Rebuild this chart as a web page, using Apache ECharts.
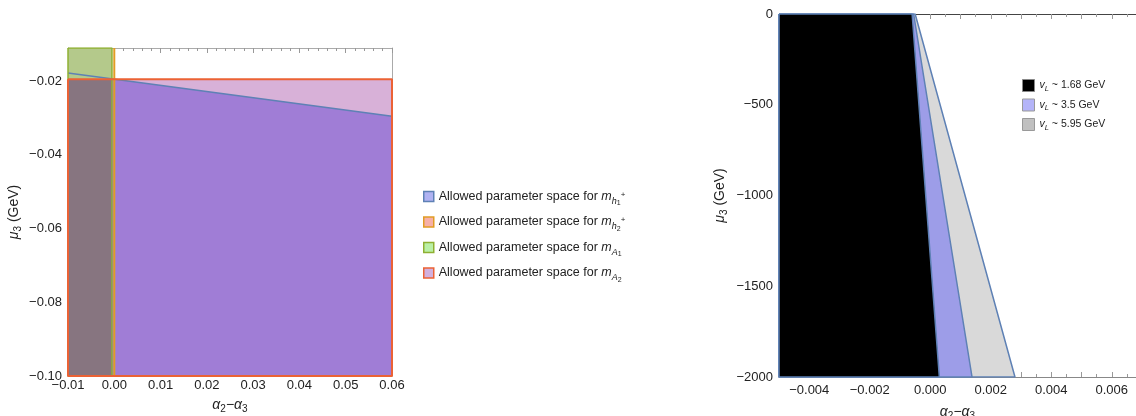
<!DOCTYPE html>
<html><head><meta charset="utf-8">
<script src="https://cdn.jsdelivr.net/npm/echarts@6/dist/echarts.min.js"></script>
<style>html,body{margin:0;padding:0;background:#fff}#c{width:1136px;height:416px}</style>
</head><body><div id="c"></div><script>
// ---------- Left panel: alpha2 - alpha3 vs mu3 (GeV) ----------
const leftX = { min: -0.01, max: 0.06, interval: 0.01 };
const leftY = { min: -0.1, max: -0.011, interval: 0.02 };
const regionMA2 = [[-0.01,-0.0195],[0.06,-0.0195],[0.06,-0.1],[-0.01,-0.1]];
const regionMh1 = [[-0.01,-0.0178],[0.06,-0.0295],[0.06,-0.1],[-0.01,-0.1]];
const boundaryMh1 = [[-0.01,-0.0178],[0.06,-0.0295]];
const regionMA1 = [[-0.01,-0.011],[-0.0005,-0.011],[-0.0005,-0.1],[-0.01,-0.1]];
const overlapAll = [[-0.01,-0.0195],[-0.0005,-0.0195],[-0.0005,-0.1],[-0.01,-0.1]];
const boundaryMh2 = [[0.0,-0.011],[0.0,-0.1]];

// ---------- Right panel: three vL values ----------
const rightX = { min: -0.005, max: 0.0068, interval: 0.001 };
const rightY = { min: -2000, max: 0, interval: 500 };
const regionVL595 = [[-0.005,0],[-0.0005,0],[0.0028,-2000],[-0.005,-2000]];
const regionVL35  = [[-0.005,0],[-0.00055,0],[0.00138,-2000],[-0.005,-2000]];
const regionVL168 = [[-0.005,0],[-0.0006,0],[0.0003,-2000],[-0.005,-2000]];

const FONT = 'Liberation Sans, Arial, sans-serif';
const MINUS = '\u2212';
const fmt = (v, d) => (v < 0 ? MINUS : '') + Math.abs(v).toFixed(d);

function fillSeries(name, gi, pts, fill, z) {
  return {
    type: 'custom', name, xAxisIndex: gi === 0 ? 0 : 2, yAxisIndex: gi === 0 ? 0 : 2, z,
    data: pts, encode: { x: 0, y: 1 }, silent: true,
    itemStyle: { color: fill },
    renderItem: (params, api) => {
      if (params.dataIndex !== 0) return null;
      return { type: 'polygon', shape: { points: pts.map(p => api.coord(p)) },
               style: { fill, stroke: null } };
    }
  };
}
function strokeSeries(name, gi, pts, color, w, z, close) {
  const d = close ? pts.concat([pts[0]]) : pts;
  return {
    type: 'line', name, xAxisIndex: gi === 0 ? 0 : 2, yAxisIndex: gi === 0 ? 0 : 2, z,
    data: d, showSymbol: false, symbol: 'none', silent: true, animation: false,
    lineStyle: { color, width: w }
  };
}

const tickStyle = { show: true, inside: true, length: 5, lineStyle: { color: '#999' } };
const minorStyle = (n) => ({ show: true, splitNumber: n, length: 3, lineStyle: { color: '#999' } });
const labelStyle = { fontFamily: FONT, fontSize: 13, color: '#222' };
const lineNoZero = (color) => ({ show: true, onZero: false, lineStyle: { color } });

const nameRich = {
  a: { fontFamily: FONT, fontSize: 14, fontStyle: 'italic', color: '#222' },
  s: { fontFamily: FONT, fontSize: 10, color: '#222', padding: [8, 0, 0, 0] },
  n: { fontFamily: FONT, fontSize: 14, color: '#222' }
};
const legRich = {
  t: { fontFamily: FONT, fontSize: 12.5, color: '#222' },
  m: { fontFamily: FONT, fontSize: 12.5, fontStyle: 'italic', color: '#222' },
  s: { fontFamily: FONT, fontSize: 9, fontStyle: 'italic', color: '#222', padding: [9, 0, 0, 0] },
  ss: { fontFamily: FONT, fontSize: 7, color: '#222', padding: [14, 0, 0, 0] },
  p: { fontFamily: FONT, fontSize: 8, color: '#222', padding: [0, 0, 4, 0] },
  v: { fontFamily: FONT, fontSize: 10.5, fontStyle: 'italic', color: '#222' },
  L: { fontFamily: FONT, fontSize: 7.5, fontStyle: 'italic', color: '#222', padding: [6, 0, 0, 0] },
  r: { fontFamily: FONT, fontSize: 10.5, color: '#222' }
};
const leftLegendText = {
  mh1: '{t|Allowed parameter space for }{m|m}{s|h}{ss|1}{p|+}',
  mh2: '{t|Allowed parameter space for }{m|m}{s|h}{ss|2}{p|+}',
  mA1: '{t|Allowed parameter space for }{m|m}{s|A}{ss|1}',
  mA2: '{t|Allowed parameter space for }{m|m}{s|A}{ss|2}'
};

const option = {
  animation: false,
  backgroundColor: '#fff',
  grid: [
    { left: 68, top: 48, width: 324, height: 328, outerBoundsMode: 'none', containLabel: false },
    { left: 779, top: 14, width: 357, height: 363, outerBoundsMode: 'none', containLabel: false }
  ],
  xAxis: [
    { gridIndex: 0, type: 'value', position: 'bottom', min: leftX.min, max: leftX.max, interval: leftX.interval,
      axisLine: lineNoZero('#aaa'), axisTick: tickStyle, minorTick: minorStyle(5),
      splitLine: { show: false },
      axisLabel: Object.assign({ margin: 3, formatter: v => fmt(v, 2) }, labelStyle),
      name: '{a|α}{s|2}{n|−}{a|α}{s|3}', nameLocation: 'middle', nameGap: 20,
      nameTextStyle: { rich: nameRich } },
    { gridIndex: 0, type: 'value', position: 'top', min: leftX.min, max: leftX.max, interval: leftX.interval,
      axisLine: lineNoZero('#aaa'), axisTick: tickStyle, minorTick: minorStyle(5),
      splitLine: { show: false }, axisLabel: { show: false } },
    { gridIndex: 1, type: 'value', position: 'bottom', min: rightX.min, max: rightX.max, interval: rightX.interval,
      axisLine: lineNoZero('#888'), axisTick: tickStyle, minorTick: minorStyle(2),
      splitLine: { show: false },
      axisLabel: Object.assign({ margin: 7, showMaxLabel: false,
        formatter: v => { const k = Math.round(v * 1000); return (k % 2 === 0 && k >= -4 && k <= 6) ? fmt(v, 3) : ''; } }, labelStyle),
      name: '{a|α}{s|2}{n|−}{a|α}{s|3}', nameLocation: 'middle', nameGap: 26,
      nameTextStyle: { rich: nameRich } },
    { gridIndex: 1, type: 'value', position: 'top', min: rightX.min, max: rightX.max, interval: rightX.interval,
      axisLine: lineNoZero('#444'), axisTick: tickStyle, minorTick: minorStyle(2),
      splitLine: { show: false }, axisLabel: { show: false } }
  ],
  yAxis: [
    { gridIndex: 0, type: 'value', position: 'left', min: leftY.min, max: leftY.max, interval: leftY.interval,
      axisLine: lineNoZero('#aaa'), axisTick: tickStyle, minorTick: minorStyle(4),
      splitLine: { show: false },
      axisLabel: Object.assign({ margin: 6, showMaxLabel: false, formatter: v => fmt(v, 2) }, labelStyle),
      name: '{a|μ}{s|3}{n| (GeV)}', nameLocation: 'middle', nameGap: 45, nameRotate: 90,
      nameTextStyle: { rich: nameRich } },
    { gridIndex: 0, type: 'value', position: 'right', min: leftY.min, max: leftY.max, interval: leftY.interval,
      axisLine: lineNoZero('#aaa'), axisTick: { show: false }, minorTick: { show: false },
      splitLine: { show: false }, axisLabel: { show: false } },
    { gridIndex: 1, type: 'value', position: 'left', min: rightY.min, max: rightY.max, interval: rightY.interval,
      axisLine: lineNoZero('#5e81b5'), axisTick: tickStyle, minorTick: minorStyle(5),
      splitLine: { show: false },
      axisLabel: Object.assign({ margin: 6, formatter: v => (v < 0 ? MINUS : '') + Math.abs(v) }, labelStyle),
      name: '{a|μ}{s|3}{n| (GeV)}', nameLocation: 'middle', nameGap: 50, nameRotate: 90,
      nameTextStyle: { rich: nameRich } }
  ],
  legend: [
    { orient: 'vertical', left: 423, top: 190, padding: 0, itemWidth: 10, itemHeight: 10, itemGap: 8.5,
      icon: 'rect', selectedMode: false,
      data: [
        { name: 'mh1', itemStyle: { color: '#b0b2f2', borderColor: '#5e81b5', borderWidth: 1.5 } },
        { name: 'mh2', itemStyle: { color: '#f6b0a8', borderColor: '#e19c24', borderWidth: 1.5 } },
        { name: 'mA1', itemStyle: { color: '#baf0a6', borderColor: '#8fb032', borderWidth: 1.5 } },
        { name: 'mA2', itemStyle: { color: '#d2b0de', borderColor: '#eb6235', borderWidth: 1.5 } }
      ],
      formatter: n => leftLegendText[n],
      textStyle: { rich: legRich } },
    { orient: 'vertical', left: 1022, top: 79, padding: 0, itemWidth: 12, itemHeight: 12, itemGap: 6,
      icon: 'rect', selectedMode: false,
      data: [
        { name: '1.68', itemStyle: { color: '#000', borderColor: '#888', borderWidth: 1 } },
        { name: '3.5', itemStyle: { color: '#b4b4f8', borderColor: '#999', borderWidth: 1 } },
        { name: '5.95', itemStyle: { color: '#c0c0c0', borderColor: '#999', borderWidth: 1 } }
      ],
      formatter: n => '{v|v}{L|L}{r| ~ ' + n + ' GeV}',
      textStyle: { rich: legRich } }
  ],
  series: [
    fillSeries('mA2', 0, regionMA2, '#d8b1d8', 1),
    fillSeries('mh1', 0, regionMh1, '#a07dd6', 2),
    fillSeries('mA1', 0, regionMA1, '#b4c98b', 3),
    fillSeries('mA1-overlap', 0, overlapAll, '#877580', 3),
    strokeSeries('mh1-b', 0, boundaryMh1, '#5e81b5', 1.5, 4, false),
    strokeSeries('mA1-b', 0, regionMA1, '#8fb032', 1.5, 5, true),
    { type: 'line', name: 'mh2', xAxisIndex: 0, yAxisIndex: 0, z: 6, data: boundaryMh2,
      showSymbol: false, symbol: 'none', silent: true, itemStyle: { color: '#e19c24' },
      lineStyle: { color: '#e19c24', width: 2 } },
    strokeSeries('mA2-b', 0, regionMA2, '#eb6235', 2, 7, true),

    fillSeries('5.95', 1, regionVL595, '#d9d9d9', 1),
    strokeSeries('5.95-b', 1, regionVL595, '#5e81b5', 1.5, 2, true),
    fillSeries('3.5', 1, regionVL35, '#9d9de8', 3),
    strokeSeries('3.5-b', 1, regionVL35, '#5e81b5', 1.5, 4, true),
    fillSeries('1.68', 1, regionVL168, '#000000', 5),
    strokeSeries('1.68-b', 1, regionVL168, '#5e81b5', 1.5, 6, true)
  ]
};
echarts.init(document.getElementById('c'), null, { renderer: 'canvas' }).setOption(option);
</script></body></html>
